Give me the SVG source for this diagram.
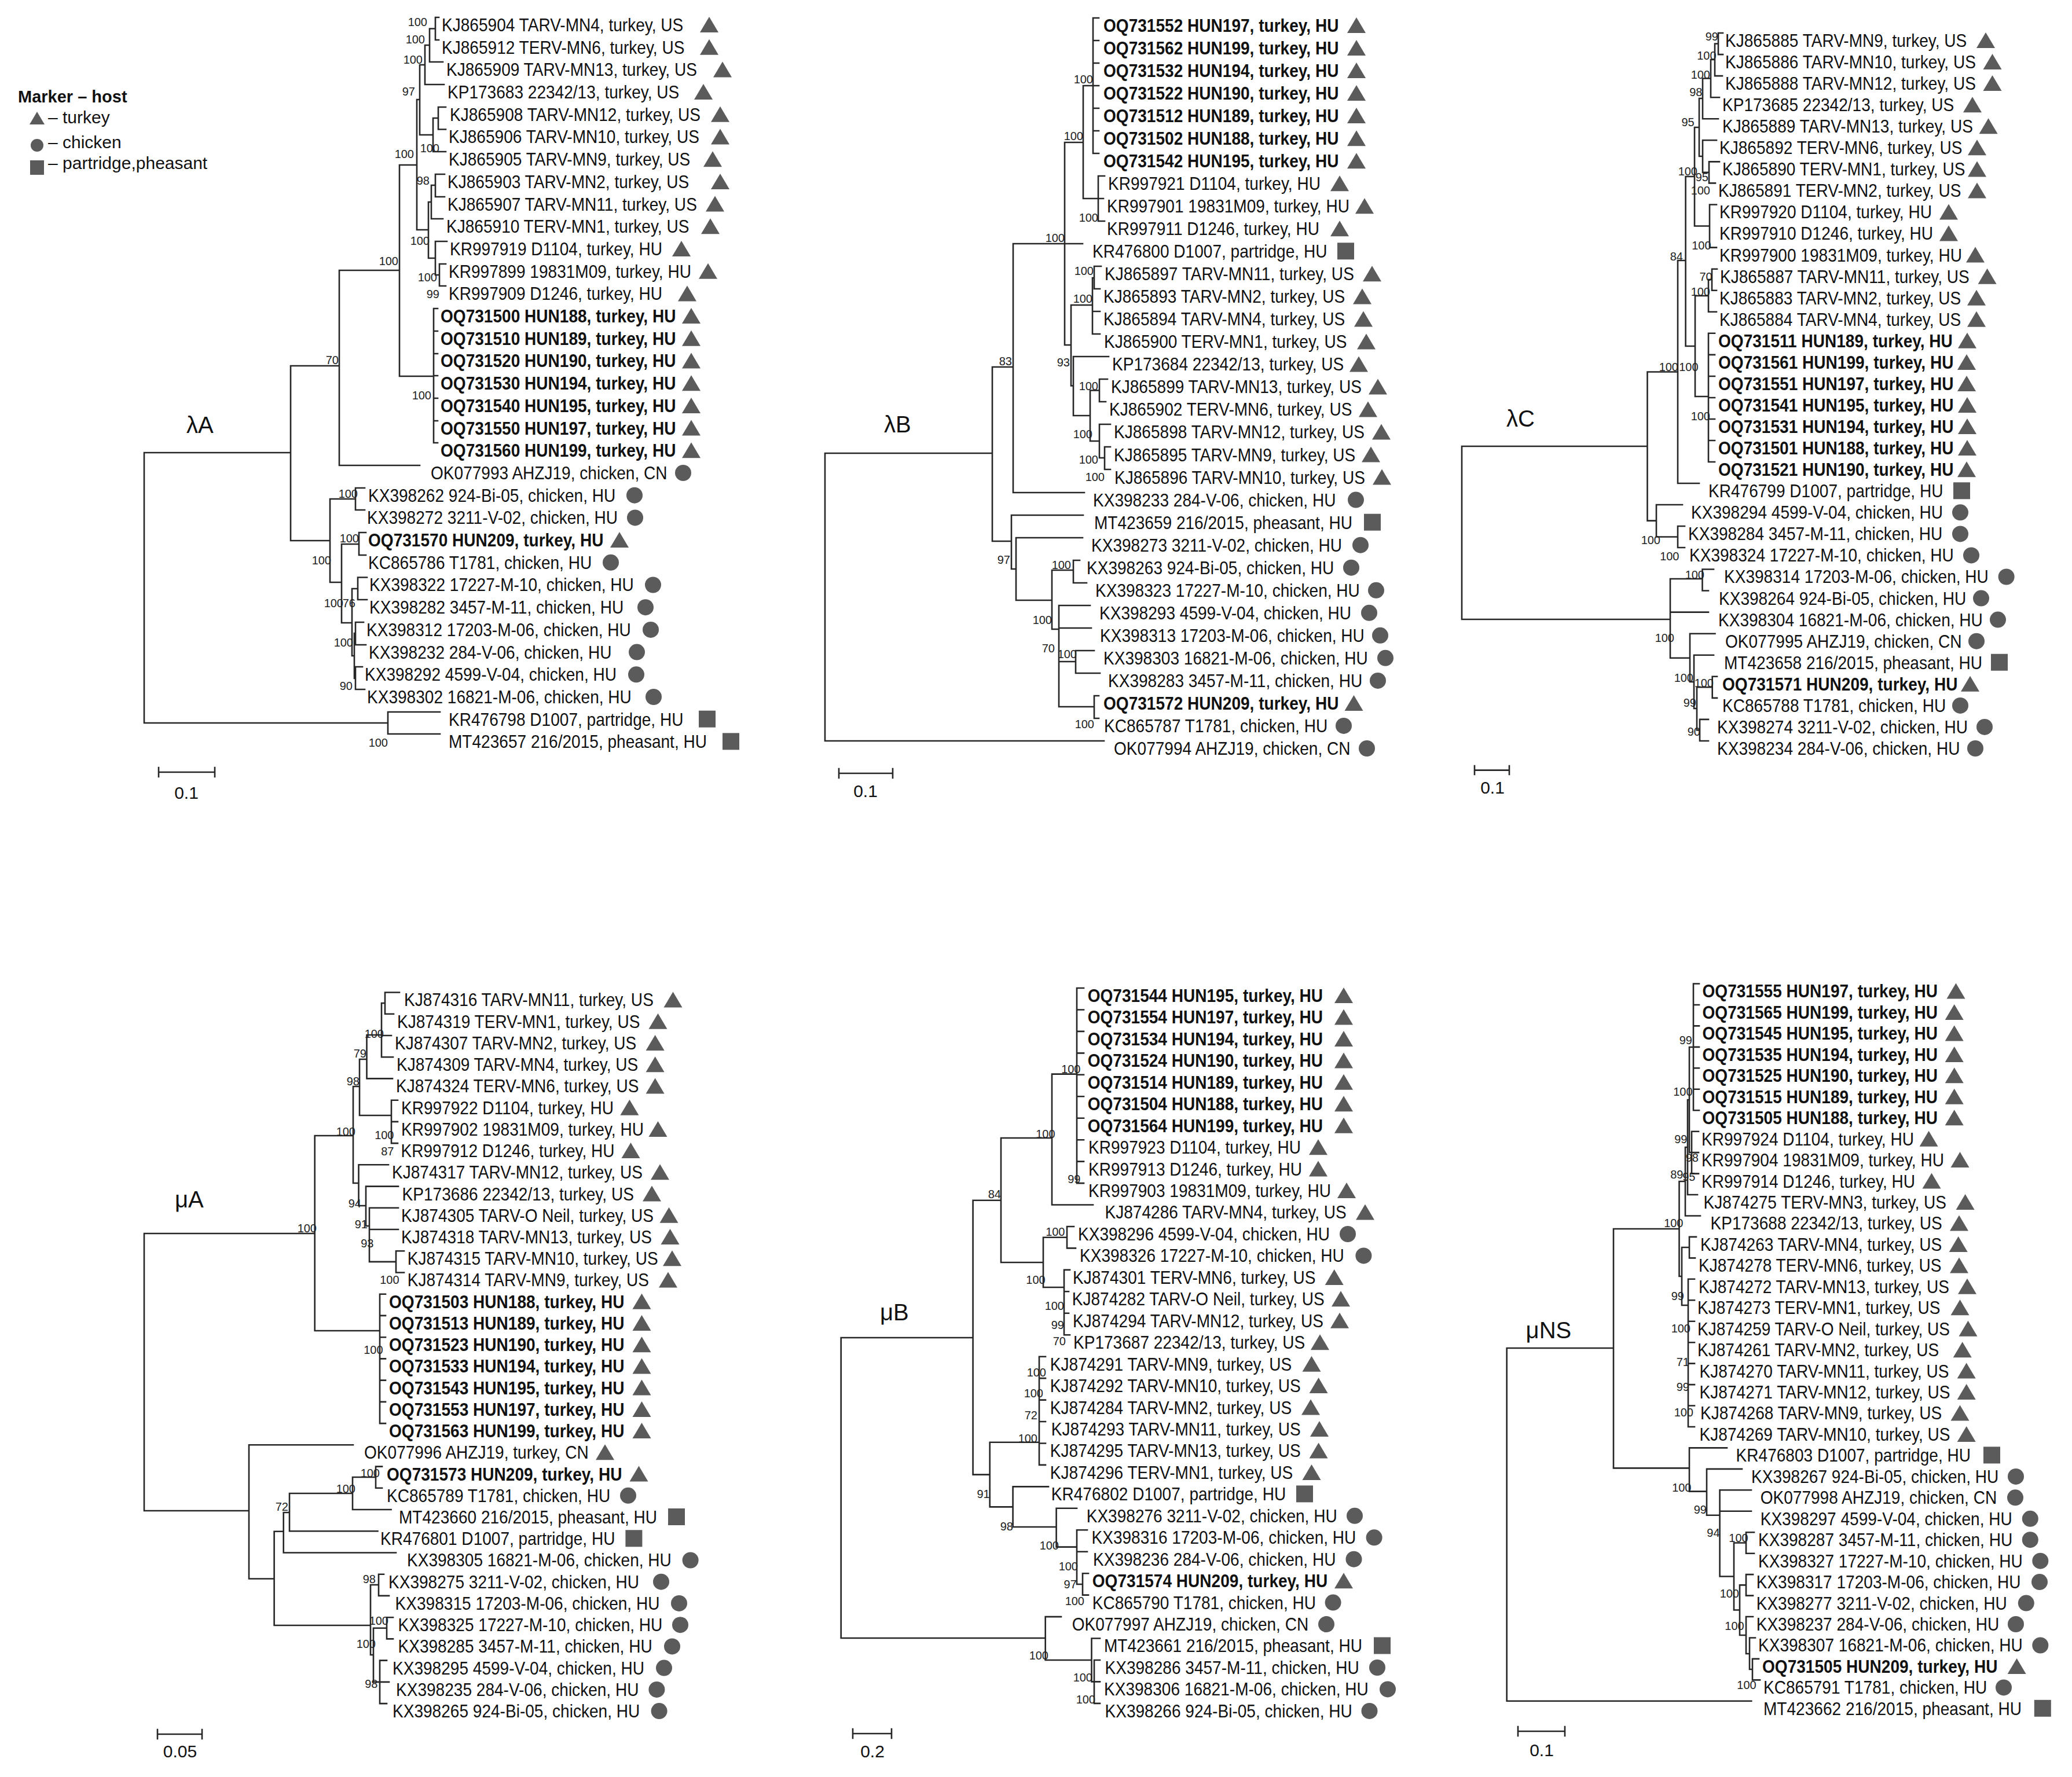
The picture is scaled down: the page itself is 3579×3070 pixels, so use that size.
<svg xmlns="http://www.w3.org/2000/svg" xmlns:xlink="http://www.w3.org/1999/xlink" width="3579" height="3070" viewBox="0 0 3579 3070">
<style>
text{font-family:"Liberation Sans",Arial,sans-serif;font-size:28px;fill:#111}
g[id*="-r"]>text{font-size:30.5px;transform-box:fill-box;transform-origin:0 0;transform:scaleX(0.92)}
.b{font-weight:bold}
.n{font-size:20px;text-anchor:end;fill:#222}
.tl{font-size:40px}
.sc{font-size:30px;text-anchor:middle}
.lg{font-size:30px}
.br{fill:none;stroke:#262626;stroke-width:2.6;stroke-linecap:square}
</style>
<defs>
<path id="t" d="M0,-1L16,26L-16,26Z" fill="#5b5b5b"/>
<circle id="c" cx="0" cy="13" r="14" fill="#5b5b5b"/>
<rect id="s" x="-14" y="-2" width="29" height="29" fill="#5b5b5b"/>
</defs>
<rect width="3579" height="3070" fill="#fff"/>

<g id="legend">
<text x="31" y="177" style="font-size:29px;font-weight:bold">Marker – host</text>
<path d="M64,193L77,215L51,215Z" fill="#5b5b5b"/><text class="lg" x="83" y="213">– turkey</text>
<circle cx="64" cy="251" r="11" fill="#5b5b5b"/><text class="lg" x="83" y="256">– chicken</text>
<rect x="52" y="277" width="24" height="25" fill="#5b5b5b"/><text class="lg" x="83" y="292">– partridge,pheasant</text>
</g>

<g id="connectors">
<path class="br" id="conn-lA" d="M249,782V1249M249,782H502M249,1249H670M502,632V934M502,632H586M502,934H570M586,467V804M586,467H690M586,804H725M690,285V650M690,285H720M690,650H749M749,533V765M749,533H756M749,572H756M749,611H756M749,649H756M749,688H756M749,727H756M749,765H756M720,172V397M720,172H725M725,112V233M725,112H734M725,233H748M734,78V146M734,78H742M734,146H767M742,49.5V107M742,49.5H752M742,107H765M752,30V69M752,30H758M752,69H758M748,204V262M748,204H757M748,262H770M757,185V223.5M757,185H770M757,223.5H770M720,397H740M740,349V446M740,349H745M740,446H752M745,320V378M745,320H752M745,378H765M752,301V340M752,301H768M752,340H768M752,417V475M752,417H772M752,475H759M759,456V494M759,456H770M759,494H770M570,862V1006M570,862H614M570,1006H590M614,843V881M614,843H630M614,881H630M590,940V1076M590,940H620M590,1076H608M620,920V959M620,920H632M620,959H632M608,1017V1133M608,1017H618M608,1133H612M618,997.5V1036M618,997.5H634M618,1036H634M612,1094V1172M612,1094H614M612,1172H614M614,1075V1114M614,1075H628M614,1114H632M614,1152V1191M614,1152H626M614,1191H630M670,1230V1268M670,1230H760M670,1268H760"/>
<path class="br" id="conn-lB" d="M1425,783V1280M1425,783H1714M1425,1280H1907M1714,634V935M1714,634H1750M1714,935H1747M1750,421V851M1750,421H1839M1750,851H1873M1839,246V596M1839,421H1870M1839,246H1871M1839,596H1850M1871,148V343M1871,148H1888M1871,343H1897M1888,31V265M1888,31H1898M1888,70H1898M1888,109H1898M1888,148H1898M1888,187H1898M1888,226H1898M1888,265H1898M1897,304V382M1897,304H1908M1897,343H1906M1897,382H1908M1850,527V666.5M1850,527H1887M1850,666.5H1854M1887,480V577M1887,480H1890M1887,538H1900M1887,577H1900M1890,460V499M1890,460H1902M1890,499H1900M1854,616V718M1854,616H1915M1854,718H1883M1883,674.5V762M1883,674.5H1899M1883,762H1899M1899,655V694M1899,655H1913M1899,694H1910M1899,733V791M1899,733H1918M1899,791H1908M1908,772V811M1908,772H1918M1908,811H1918M1747,890V983M1747,890H1871M1747,983H1755M1755,929V1037M1755,929H1870M1755,1037H1817M1817,985V1087M1817,985H1854M1817,1087H1829M1854,968V1007M1854,968H1865M1854,1007H1877M1829,1046V1221M1829,1046H1883M1829,1085H1885M1829,1143H1858M1829,1221H1890M1858,1124V1163M1858,1124H1890M1858,1163H1900M1890,1202V1241M1890,1202H1898M1890,1241H1898"/>
<path class="br" id="conn-lC" d="M2525,771V1070M2525,771H2845.5M2525,1070H2885M2845.5,642.5V899.6M2845.5,642.5H2898M2845.5,899.6H2861M2898,450V835M2898,450H2911.6M2898,835H2935M2911.6,305V598M2911.6,305H2927M2911.6,598H2928M2927,220V390.5M2927,220H2935M2927,390.5H2953M2935,170V270M2935,170H2941M2935,270H2941M2941,135.5V205.2M2941,135.5H2955M2941,205.2H2968M2955,103V168.2M2955,103H2962M2955,168.2H2970M2962,75.5V131.1M2962,75.5H2968M2962,131.1H2975M2968,57V94.1M2968,57H2976M2968,94.1H2976M2941,242.3V297.9M2941,242.3H2965M2941,297.9H2952M2952,279.4V316.4M2952,279.4H2970M2952,316.4H2963M2953,353.5V427.6M2953,353.5H2965M2953,427.6H2965M2928,511V685M2928,511H2951M2928,685H2951M2951,483V538.8M2951,483H2957M2951,538.8H2965M2957,464.7V501.7M2957,464.7H2966M2957,501.7H2965M2951,575.8V798M2951,575.8H2962M2951,612.9H2962M2951,650H2962M2951,687H2962M2951,724H2962M2951,761H2962M2951,798H2962M2861,872V927.5M2861,872H2906M2861,927.5H2898M2898,909V946M2898,909H2910M2898,946H2910M2885,1000V1136.8M2885,1000H2940.5M2885,1057.6H2951M2885,1136.8H2919M2940.5,983.5V1020.5M2940.5,983.5H2960M2940.5,1020.5H2951M2919,1094.7V1178M2919,1094.7H2962.5M2919,1178H2926M2926,1131.7V1224M2926,1131.7H2960M2926,1224H2931M2931,1187.3V1261.5M2931,1187.3H2957.7M2931,1261.5H2936M2957.7,1168.8V1205.9M2957.7,1168.8H2966M2957.7,1205.9H2966M2936,1242.9V1280M2936,1242.9H2951M2936,1280H2951"/>
<path class="br" id="conn-mA" d="M249,2131V2610M249,2131H543.7M249,2610H430M543.7,1962V2299M543.7,1962H610M543.7,2299H656M656,2235.7V2459.1M656,2235.7H666M656,2272.9H666M656,2310.2H666M656,2347.4H666M656,2384.6H666M656,2421.9H666M656,2459.1H666M610,1877V2044M610,1877H621M610,2044H619.5M621,1830V1927M621,1830H633.5M621,1927H676M633.5,1788V1863.4M633.5,1788H659M633.5,1863.4H678M659,1733V1826.2M659,1733H665M659,1789H676M659,1826.2H679M665,1714.5V1751.7M665,1714.5H690M665,1751.7H680M676,1900.7V1975.1M676,1900.7H687M676,1937.9H687M676,1975.1H687M619.5,2012.3V2083M619.5,2012.3H671M619.5,2083H632M632,2049.6V2118M632,2049.6H688M632,2118H638M638,2086.8V2179.9M638,2086.8H688M638,2124H688M638,2179.9H684M684,2161.3V2198.5M684,2161.3H698M684,2198.5H698M430,2496.3V2727.5M430,2496.3H610M430,2727.5H473.6M473.6,2645.8V2808M473.6,2645.8H489.7M473.6,2808H640M489.7,2613V2682.5M489.7,2613H500M489.7,2682.5H684M500,2580V2645.3M500,2580H609M500,2645.3H652.5M609,2552V2608M609,2552H649M609,2608H675.6M649,2533.6V2570.8M649,2533.6H660M649,2570.8H660M640,2738V2859M640,2738H654M640,2859H645M645,2812.8V2905.9M645,2812.8H668M645,2905.9H656M654,2719.7V2756.9M654,2719.7H663M654,2756.9H672M668,2794.2V2831.4M668,2794.2H679M668,2831.4H679M656,2868.6V2943.1M656,2868.6H668M656,2905.9H672M656,2943.1H668"/>
<path class="br" id="conn-mB" d="M1452.7,2311V2830M1452.7,2311H1680.6M1452.7,2830H1805.7M1680.6,2073.8V2547.6M1680.6,2073.8H1729M1680.6,2547.6H1709.7M1729,1966V2181M1729,1966H1817M1729,2181H1802M1817,1855.6V2081.5M1817,1855.6H1860M1817,2081.5H1888M1860,1707V2044.1M1860,1707H1872M1860,1744.5H1872M1860,1781.9H1872M1860,1819.4H1872M1860,1856.8H1872M1860,1894.3H1872M1860,1931.7H1872M1860,1969.2H1872M1860,2006.6H1872M1860,2044.1H1872M1802,2137.7V2224M1802,2137.7H1843M1802,2224H1838M1843,2119V2156.4M1843,2119H1855M1843,2156.4H1858M1838,2193.9V2306.2M1838,2193.9H1848M1838,2231.3H1846M1838,2268.8H1846M1838,2306.2H1848M1709.7,2491.8V2603.4M1709.7,2491.8H1795M1709.7,2603.4H1749.6M1795,2343.7V2530.9M1795,2343.7H1806M1795,2381.1H1806M1795,2418.6H1806M1795,2456H1806M1795,2493.5H1806M1795,2530.9H1806M1749.6,2568.4V2638M1749.6,2568.4H1811M1749.6,2638H1824.6M1824.6,2605.8V2672.6M1824.6,2605.8H1860M1824.6,2672.6H1860M1860,2643.3V2737M1860,2643.3H1878M1860,2680.7H1878M1860,2737H1870M1870,2718.2V2755.6M1870,2718.2H1880M1870,2755.6H1880M1805.7,2793.1V2868M1805.7,2793.1H1833M1805.7,2868H1885.5M1885.5,2830.5V2905.4M1885.5,2830.5H1900M1885.5,2905.4H1890M1890,2868V2942.9M1890,2868H1900M1890,2905.4H1900M1890,2942.9H1900"/>
<path class="br" id="conn-mNS" d="M2602.7,2329V2938.8M2602.7,2329H2787M2602.7,2938.8H3025.3M2787,2123V2536.4M2787,2123H2900.5M2787,2536.4H2918M2900.5,2041V2205M2900.5,2041H2911M2900.5,2205H2905M2911,1982V2100.5M2911,1982H2915M2911,2100.5H2937M2915,1900V2064M2915,1900H2918M2915,2064H2932M2918,1809V1991M2918,1809H2925M2918,1991H2922M2925,1699.5V1918.2M2925,1699.5H2935M2925,1736H2935M2925,1772.4H2935M2925,1808.9H2935M2925,1845.3H2935M2925,1881.8H2935M2925,1918.2H2935M2922,1954.7V2027.6M2922,1954.7H2934M2922,1991.1H2934M2922,2027.6H2934M2905,2155V2255M2905,2155H2918M2905,2255H2916M2918,2136.9V2173.4M2918,2136.9H2930M2918,2173.4H2928M2916,2209.8V2465M2916,2209.8H2927M2916,2246.3H2927M2916,2282.7H2927M2916,2319.2H2927M2916,2355.6H2927M2916,2392.1H2927M2916,2428.5H2927M2916,2465H2927M2918,2501.4V2576.6M2918,2501.4H2983M2918,2576.6H2948M2948,2537.9V2617.7M2948,2537.9H3009M2948,2617.7H2970.6M2970.6,2574.3V2723.5M2970.6,2574.3H3025M2970.6,2610.8H3025M2970.6,2723.5H2995M2995,2665.5V2781.5M2995,2665.5H3016M2995,2781.5H3005M3016,2647.2V2683.7M3016,2647.2H3030M3016,2683.7H3030M3005,2738.4V2825M3005,2738.4H3016M3005,2825H3016M3016,2720.1V2756.6M3016,2720.1H3028M3016,2756.6H3028M3016,2793V2857M3016,2793H3028M3016,2857H3022M3022,2829.5V2884M3022,2829.5H3032M3022,2884H3027M3027,2865.9V2902.4M3027,2865.9H3038M3027,2902.4H3040"/>
<path class="br" id="scalebars" d="M274,1334H371M274,1326V1342M371,1326V1342M1449,1336H1542M1449,1328V1344M1542,1328V1344M2547,1330.6H2607M2547,1323V1338M2607,1323V1338M272,2996H349M272,2988V3004M349,2988V3004M1473,2995H1540M1473,2987V3003M1540,2987V3003M2622,2991H2703M2622,2983V2999M2703,2983V2999"/>
</g>

<g id="tree-lA">
<text class="tl" x="322" y="748">λA</text>
<text class="sc" x="322" y="1380">0.1</text>
<g id="lA-r0"><text x="763" y="54">KJ865904 TARV-MN4, turkey, US</text><use href="#t" x="1225" y="30"/></g>
<g id="lA-r1"><text x="763" y="92.7">KJ865912 TERV-MN6, turkey, US</text><use href="#t" x="1225" y="68.7"/></g>
<g id="lA-r2"><text x="771" y="131.4">KJ865909 TARV-MN13, turkey, US</text><use href="#t" x="1248" y="107.4"/></g>
<g id="lA-r3"><text x="773" y="170.1">KP173683 22342/13, turkey, US</text><use href="#t" x="1215" y="146.1"/></g>
<g id="lA-r4"><text x="777" y="208.8">KJ865908 TARV-MN12, turkey, US</text><use href="#t" x="1244" y="184.8"/></g>
<g id="lA-r5"><text x="775" y="247.5">KJ865906 TARV-MN10, turkey, US</text><use href="#t" x="1244" y="223.5"/></g>
<g id="lA-r6"><text x="775" y="286.2">KJ865905 TARV-MN9, turkey, US</text><use href="#t" x="1231" y="262.2"/></g>
<g id="lA-r7"><text x="773" y="324.9">KJ865903 TARV-MN2, turkey, US</text><use href="#t" x="1244" y="300.9"/></g>
<g id="lA-r8"><text x="773" y="363.6">KJ865907 TARV-MN11, turkey, US</text><use href="#t" x="1235" y="339.6"/></g>
<g id="lA-r9"><text x="771" y="402.3">KJ865910 TERV-MN1, turkey, US</text><use href="#t" x="1227" y="378.3"/></g>
<g id="lA-r10"><text x="777" y="441">KR997919 D1104, turkey, HU</text><use href="#t" x="1177" y="417"/></g>
<g id="lA-r11"><text x="775" y="479.7">KR997899 19831M09, turkey, HU</text><use href="#t" x="1223" y="455.7"/></g>
<g id="lA-r12"><text x="775" y="518.4">KR997909 D1246, turkey, HU</text><use href="#t" x="1187" y="494.4"/></g>
<g id="lA-r13"><text class="b" x="761" y="557.1">OQ731500 HUN188, turkey, HU</text><use href="#t" x="1194" y="533.1"/></g>
<g id="lA-r14"><text class="b" x="761" y="595.8">OQ731510 HUN189, turkey, HU</text><use href="#t" x="1194" y="571.8"/></g>
<g id="lA-r15"><text class="b" x="761" y="634.5">OQ731520 HUN190, turkey, HU</text><use href="#t" x="1194" y="610.5"/></g>
<g id="lA-r16"><text class="b" x="761" y="673.2">OQ731530 HUN194, turkey, HU</text><use href="#t" x="1194" y="649.2"/></g>
<g id="lA-r17"><text class="b" x="761" y="711.9">OQ731540 HUN195, turkey, HU</text><use href="#t" x="1194" y="687.9"/></g>
<g id="lA-r18"><text class="b" x="761" y="750.6">OQ731550 HUN197, turkey, HU</text><use href="#t" x="1194" y="726.6"/></g>
<g id="lA-r19"><text class="b" x="761" y="789.3">OQ731560 HUN199, turkey, HU</text><use href="#t" x="1194" y="765.3"/></g>
<g id="lA-r20"><text x="744" y="828">OK077993 AHZJ19, chicken, CN</text><use href="#c" x="1180" y="804"/></g>
<g id="lA-r21"><text x="636" y="866.7">KX398262 924-Bi-05, chicken, HU</text><use href="#c" x="1096" y="842.7"/></g>
<g id="lA-r22"><text x="634" y="905.4">KX398272 3211-V-02, chicken, HU</text><use href="#c" x="1097" y="881.4"/></g>
<g id="lA-r23"><text class="b" x="636" y="944.1">OQ731570 HUN209, turkey, HU</text><use href="#t" x="1070" y="920.1"/></g>
<g id="lA-r24"><text x="636" y="982.8">KC865786 T1781, chicken, HU</text><use href="#c" x="1055" y="958.8"/></g>
<g id="lA-r25"><text x="638" y="1021.5">KX398322 17227-M-10, chicken, HU</text><use href="#c" x="1128" y="997.5"/></g>
<g id="lA-r26"><text x="638" y="1060.2">KX398282 3457-M-11, chicken, HU</text><use href="#c" x="1115" y="1036.2"/></g>
<g id="lA-r27"><text x="633" y="1098.9">KX398312 17203-M-06, chicken, HU</text><use href="#c" x="1124" y="1074.9"/></g>
<g id="lA-r28"><text x="637" y="1137.6">KX398232 284-V-06, chicken, HU</text><use href="#c" x="1100" y="1113.6"/></g>
<g id="lA-r29"><text x="630" y="1176.3">KX398292 4599-V-04, chicken, HU</text><use href="#c" x="1099" y="1152.3"/></g>
<g id="lA-r30"><text x="634" y="1215">KX398302 16821-M-06, chicken, HU</text><use href="#c" x="1129" y="1191"/></g>
<g id="lA-r31"><text x="775" y="1253.7">KR476798 D1007, partridge, HU</text><use href="#s" x="1221" y="1229.7"/></g>
<g id="lA-r32"><text x="775" y="1292.4">MT423657 216/2015, pheasant, HU</text><use href="#s" x="1262" y="1268.4"/></g>
<g id="lA-support">
<text class="n" x="738" y="45">100</text><text class="n" x="734" y="75">100</text><text class="n" x="730" y="110">100</text><text class="n" x="717" y="165">97</text><text class="n" x="759" y="263">100</text><text class="n" x="715" y="273">100</text><text class="n" x="742" y="319">98</text><text class="n" x="742" y="423">100</text><text class="n" x="688" y="458">100</text><text class="n" x="755" y="486">100</text><text class="n" x="759" y="515">99</text><text class="n" x="585" y="629">70</text><text class="n" x="745" y="690">100</text><text class="n" x="618" y="860">100</text><text class="n" x="620" y="937">100</text><text class="n" x="572" y="975">100</text><text class="n" x="593" y="1049">100</text><text class="n" x="614" y="1049">76</text><text class="n" x="610" y="1117">100</text><text class="n" x="609" y="1192">90</text><text class="n" x="670" y="1290">100</text>
</g>
</g>

<g id="tree-lB">
<text class="tl" x="1527" y="747">λB</text>
<text class="sc" x="1495" y="1377">0.1</text>
<g id="lB-r0"><text class="b" x="1906" y="55">OQ731552 HUN197, turkey, HU</text><use href="#t" x="2343" y="31"/></g>
<g id="lB-r1"><text class="b" x="1906" y="94">OQ731562 HUN199, turkey, HU</text><use href="#t" x="2343" y="70"/></g>
<g id="lB-r2"><text class="b" x="1906" y="133.1">OQ731532 HUN194, turkey, HU</text><use href="#t" x="2343" y="109.1"/></g>
<g id="lB-r3"><text class="b" x="1906" y="172.1">OQ731522 HUN190, turkey, HU</text><use href="#t" x="2343" y="148.1"/></g>
<g id="lB-r4"><text class="b" x="1906" y="211.1">OQ731512 HUN189, turkey, HU</text><use href="#t" x="2343" y="187.1"/></g>
<g id="lB-r5"><text class="b" x="1906" y="250.2">OQ731502 HUN188, turkey, HU</text><use href="#t" x="2343" y="226.2"/></g>
<g id="lB-r6"><text class="b" x="1906" y="289.2">OQ731542 HUN195, turkey, HU</text><use href="#t" x="2343" y="265.2"/></g>
<g id="lB-r7"><text x="1914" y="328.2">KR997921 D1104, turkey, HU</text><use href="#t" x="2314" y="304.2"/></g>
<g id="lB-r8"><text x="1912" y="367.2">KR997901 19831M09, turkey, HU</text><use href="#t" x="2357" y="343.2"/></g>
<g id="lB-r9"><text x="1912" y="406.3">KR997911 D1246, turkey, HU</text><use href="#t" x="2314" y="382.3"/></g>
<g id="lB-r10"><text x="1887" y="445.3">KR476800 D1007, partridge, HU</text><use href="#s" x="2324" y="421.3"/></g>
<g id="lB-r11"><text x="1908" y="484.3">KJ865897 TARV-MN11, turkey, US</text><use href="#t" x="2370" y="460.3"/></g>
<g id="lB-r12"><text x="1906" y="523.4">KJ865893 TARV-MN2, turkey, US</text><use href="#t" x="2353" y="499.4"/></g>
<g id="lB-r13"><text x="1906" y="562.4">KJ865894 TARV-MN4, turkey, US</text><use href="#t" x="2355" y="538.4"/></g>
<g id="lB-r14"><text x="1907" y="601.4">KJ865900 TERV-MN1, turkey, US</text><use href="#t" x="2360" y="577.4"/></g>
<g id="lB-r15"><text x="1921" y="640.5">KP173684 22342/13, turkey, US</text><use href="#t" x="2347" y="616.5"/></g>
<g id="lB-r16"><text x="1919" y="679.5">KJ865899 TARV-MN13, turkey, US</text><use href="#t" x="2380" y="655.5"/></g>
<g id="lB-r17"><text x="1916" y="718.5">KJ865902 TERV-MN6, turkey, US</text><use href="#t" x="2363" y="694.5"/></g>
<g id="lB-r18"><text x="1924" y="757.5">KJ865898 TARV-MN12, turkey, US</text><use href="#t" x="2386" y="733.5"/></g>
<g id="lB-r19"><text x="1924" y="796.6">KJ865895 TARV-MN9, turkey, US</text><use href="#t" x="2368" y="772.6"/></g>
<g id="lB-r20"><text x="1925" y="835.6">KJ865896 TARV-MN10, turkey, US</text><use href="#t" x="2387" y="811.6"/></g>
<g id="lB-r21"><text x="1888" y="874.6">KX398233 284-V-06, chicken, HU</text><use href="#c" x="2342" y="850.6"/></g>
<g id="lB-r22"><text x="1890" y="913.7">MT423659 216/2015, pheasant, HU</text><use href="#s" x="2370" y="889.7"/></g>
<g id="lB-r23"><text x="1885" y="952.7">KX398273 3211-V-02, chicken, HU</text><use href="#c" x="2350" y="928.7"/></g>
<g id="lB-r24"><text x="1877" y="991.7">KX398263 924-Bi-05, chicken, HU</text><use href="#c" x="2334" y="967.7"/></g>
<g id="lB-r25"><text x="1892" y="1030.8">KX398323 17227-M-10, chicken, HU</text><use href="#c" x="2377" y="1006.8"/></g>
<g id="lB-r26"><text x="1899" y="1069.8">KX398293 4599-V-04, chicken, HU</text><use href="#c" x="2365" y="1045.8"/></g>
<g id="lB-r27"><text x="1900" y="1108.8">KX398313 17203-M-06, chicken, HU</text><use href="#c" x="2384" y="1084.8"/></g>
<g id="lB-r28"><text x="1906" y="1147.8">KX398303 16821-M-06, chicken, HU</text><use href="#c" x="2393" y="1123.8"/></g>
<g id="lB-r29"><text x="1914" y="1186.9">KX398283 3457-M-11, chicken, HU</text><use href="#c" x="2380" y="1162.9"/></g>
<g id="lB-r30"><text class="b" x="1906" y="1225.9">OQ731572 HUN209, turkey, HU</text><use href="#t" x="2338.5" y="1201.9"/></g>
<g id="lB-r31"><text x="1907" y="1264.9">KC865787 T1781, chicken, HU</text><use href="#c" x="2321" y="1240.9"/></g>
<g id="lB-r32"><text x="1924" y="1304">OK077994 AHZJ19, chicken, CN</text><use href="#c" x="2361" y="1280"/></g>
<g id="lB-support">
<text class="n" x="1748" y="631">83</text><text class="n" x="1839" y="418">100</text><text class="n" x="1871" y="242">100</text><text class="n" x="1888" y="144">100</text><text class="n" x="1897" y="383">100</text><text class="n" x="1889" y="475">100</text><text class="n" x="1887" y="523">100</text><text class="n" x="1848" y="633">93</text><text class="n" x="1897" y="674">100</text><text class="n" x="1887" y="757">100</text><text class="n" x="1897" y="801">100</text><text class="n" x="1908" y="831">100</text><text class="n" x="1745" y="974">97</text><text class="n" x="1850" y="983">100</text><text class="n" x="1817" y="1078">100</text><text class="n" x="1822" y="1127">70</text><text class="n" x="1860" y="1137">100</text><text class="n" x="1890" y="1258">100</text>
</g>
</g>

<g id="tree-lC">
<text class="tl" x="2602" y="737">λC</text>
<text class="sc" x="2578" y="1371">0.1</text>
<g id="lC-r0"><text x="2980" y="81">KJ865885 TARV-MN9, turkey, US</text><use href="#t" x="3430" y="57"/></g>
<g id="lC-r1"><text x="2980" y="118.1">KJ865886 TARV-MN10, turkey, US</text><use href="#t" x="3441.5" y="94.1"/></g>
<g id="lC-r2"><text x="2980" y="155.1">KJ865888 TARV-MN12, turkey, US</text><use href="#t" x="3441.5" y="131.1"/></g>
<g id="lC-r3"><text x="2975" y="192.2">KP173685 22342/13, turkey, US</text><use href="#t" x="3407" y="168.2"/></g>
<g id="lC-r4"><text x="2975" y="229.2">KJ865889 TARV-MN13, turkey, US</text><use href="#t" x="3434.6" y="205.2"/></g>
<g id="lC-r5"><text x="2970" y="266.3">KJ865892 TERV-MN6, turkey, US</text><use href="#t" x="3415" y="242.3"/></g>
<g id="lC-r6"><text x="2975" y="303.4">KJ865890 TERV-MN1, turkey, US</text><use href="#t" x="3415" y="279.4"/></g>
<g id="lC-r7"><text x="2968" y="340.4">KJ865891 TERV-MN2, turkey, US</text><use href="#t" x="3415" y="316.4"/></g>
<g id="lC-r8"><text x="2970" y="377.5">KR997920 D1104, turkey, HU</text><use href="#t" x="3366" y="353.5"/></g>
<g id="lC-r9"><text x="2970" y="414.5">KR997910 D1246, turkey, HU</text><use href="#t" x="3366" y="390.5"/></g>
<g id="lC-r10"><text x="2970" y="451.6">KR997900 19831M09, turkey, HU</text><use href="#t" x="3412" y="427.6"/></g>
<g id="lC-r11"><text x="2971" y="488.7">KJ865887 TARV-MN11, turkey, US</text><use href="#t" x="3432.6" y="464.7"/></g>
<g id="lC-r12"><text x="2970" y="525.7">KJ865883 TARV-MN2, turkey, US</text><use href="#t" x="3414" y="501.7"/></g>
<g id="lC-r13"><text x="2970" y="562.8">KJ865884 TARV-MN4, turkey, US</text><use href="#t" x="3414" y="538.8"/></g>
<g id="lC-r14"><text class="b" x="2968" y="599.8">OQ731511 HUN189, turkey, HU</text><use href="#t" x="3398" y="575.8"/></g>
<g id="lC-r15"><text class="b" x="2968" y="636.9">OQ731561 HUN199, turkey, HU</text><use href="#t" x="3397" y="612.9"/></g>
<g id="lC-r16"><text class="b" x="2968" y="674">OQ731551 HUN197, turkey, HU</text><use href="#t" x="3397" y="650"/></g>
<g id="lC-r17"><text class="b" x="2968" y="711">OQ731541 HUN195, turkey, HU</text><use href="#t" x="3398" y="687"/></g>
<g id="lC-r18"><text class="b" x="2968" y="748.1">OQ731531 HUN194, turkey, HU</text><use href="#t" x="3398" y="724.1"/></g>
<g id="lC-r19"><text class="b" x="2968" y="785.1">OQ731501 HUN188, turkey, HU</text><use href="#t" x="3398" y="761.1"/></g>
<g id="lC-r20"><text class="b" x="2968" y="822.2">OQ731521 HUN190, turkey, HU</text><use href="#t" x="3397" y="798.2"/></g>
<g id="lC-r21"><text x="2951" y="859.3">KR476799 D1007, partridge, HU</text><use href="#s" x="3388" y="835.3"/></g>
<g id="lC-r22"><text x="2921" y="896.3">KX398294 4599-V-04, chicken, HU</text><use href="#c" x="3386" y="872.3"/></g>
<g id="lC-r23"><text x="2916" y="933.4">KX398284 3457-M-11, chicken, HU</text><use href="#c" x="3386" y="909.4"/></g>
<g id="lC-r24"><text x="2918" y="970.4">KX398324 17227-M-10, chicken, HU</text><use href="#c" x="3405" y="946.4"/></g>
<g id="lC-r25"><text x="2978" y="1007.5">KX398314 17203-M-06, chicken, HU</text><use href="#c" x="3465.6" y="983.5"/></g>
<g id="lC-r26"><text x="2969" y="1044.6">KX398264 924-Bi-05, chicken, HU</text><use href="#c" x="3422" y="1020.6"/></g>
<g id="lC-r27"><text x="2968" y="1081.6">KX398304 16821-M-06, chicken, HU</text><use href="#c" x="3451" y="1057.6"/></g>
<g id="lC-r28"><text x="2980" y="1118.7">OK077995 AHZJ19, chicken, CN</text><use href="#c" x="3414" y="1094.7"/></g>
<g id="lC-r29"><text x="2978" y="1155.7">MT423658 216/2015, pheasant, HU</text><use href="#s" x="3453" y="1131.7"/></g>
<g id="lC-r30"><text class="b" x="2975" y="1192.8">OQ731571 HUN209, turkey, HU</text><use href="#t" x="3403" y="1168.8"/></g>
<g id="lC-r31"><text x="2975" y="1229.9">KC865788 T1781, chicken, HU</text><use href="#c" x="3386" y="1205.9"/></g>
<g id="lC-r32"><text x="2966" y="1266.9">KX398274 3211-V-02, chicken, HU</text><use href="#c" x="3428" y="1242.9"/></g>
<g id="lC-r33"><text x="2966" y="1304">KX398234 284-V-06, chicken, HU</text><use href="#c" x="3412" y="1280"/></g>
<g id="lC-support">
<text class="n" x="2968" y="69.6">99</text><text class="n" x="2964.6" y="102.6">100</text><text class="n" x="2954" y="135.6">100</text><text class="n" x="2940.5" y="166">98</text><text class="n" x="2926.7" y="218">95</text><text class="n" x="2932" y="303">100</text><text class="n" x="2951" y="312.6">95</text><text class="n" x="2954" y="336">100</text><text class="n" x="2955.6" y="430.6">100</text><text class="n" x="2907" y="449.5">84</text><text class="n" x="2957.7" y="484.8">70</text><text class="n" x="2954" y="510.8">100</text><text class="n" x="2899" y="640.6">100</text><text class="n" x="2933.6" y="640.6">100</text><text class="n" x="2954" y="725.5">100</text><text class="n" x="2868" y="939.5">100</text><text class="n" x="2900.5" y="967.7">100</text><text class="n" x="2944" y="1000">100</text><text class="n" x="2892" y="1108.6">100</text><text class="n" x="2925" y="1178">100</text><text class="n" x="2960" y="1186.7">100</text><text class="n" x="2930" y="1221">99</text><text class="n" x="2937" y="1271">90</text>
</g>
</g>

<g id="tree-mA">
<text class="tl" x="302" y="2085.5">μA</text>
<text class="sc" x="311" y="3036">0.05</text>
<g id="mA-r0"><text x="698" y="1738.5">KJ874316 TARV-MN11, turkey, US</text><use href="#t" x="1162.5" y="1714.5"/></g>
<g id="mA-r1"><text x="686" y="1775.7">KJ874319 TERV-MN1, turkey, US</text><use href="#t" x="1136.5" y="1751.7"/></g>
<g id="mA-r2"><text x="682" y="1813">KJ874307 TARV-MN2, turkey, US</text><use href="#t" x="1131.6" y="1789"/></g>
<g id="mA-r3"><text x="685" y="1850.2">KJ874309 TARV-MN4, turkey, US</text><use href="#t" x="1131.6" y="1826.2"/></g>
<g id="mA-r4"><text x="684" y="1887.4">KJ874324 TERV-MN6, turkey, US</text><use href="#t" x="1131.6" y="1863.4"/></g>
<g id="mA-r5"><text x="693" y="1924.7">KR997922 D1104, turkey, HU</text><use href="#t" x="1087.4" y="1900.7"/></g>
<g id="mA-r6"><text x="693" y="1961.9">KR997902 19831M09, turkey, HU</text><use href="#t" x="1136.5" y="1937.9"/></g>
<g id="mA-r7"><text x="692.5" y="1999.1">KR997912 D1246, turkey, HU</text><use href="#t" x="1089.5" y="1975.1"/></g>
<g id="mA-r8"><text x="677" y="2036.3">KJ874317 TARV-MN12, turkey, US</text><use href="#t" x="1140" y="2012.3"/></g>
<g id="mA-r9"><text x="694.6" y="2073.6">KP173686 22342/13, turkey, US</text><use href="#t" x="1126" y="2049.6"/></g>
<g id="mA-r10"><text x="693" y="2110.8">KJ874305 TARV-O Neil, turkey, US</text><use href="#t" x="1155.5" y="2086.8"/></g>
<g id="mA-r11"><text x="693" y="2148">KJ874318 TARV-MN13, turkey, US</text><use href="#t" x="1157.5" y="2124"/></g>
<g id="mA-r12"><text x="703.7" y="2185.3">KJ874315 TARV-MN10, turkey, US</text><use href="#t" x="1161" y="2161.3"/></g>
<g id="mA-r13"><text x="703.7" y="2222.5">KJ874314 TARV-MN9, turkey, US</text><use href="#t" x="1154" y="2198.5"/></g>
<g id="mA-r14"><text class="b" x="672" y="2259.7">OQ731503 HUN188, turkey, HU</text><use href="#t" x="1108.5" y="2235.7"/></g>
<g id="mA-r15"><text class="b" x="672" y="2296.9">OQ731513 HUN189, turkey, HU</text><use href="#t" x="1108.5" y="2272.9"/></g>
<g id="mA-r16"><text class="b" x="672" y="2334.2">OQ731523 HUN190, turkey, HU</text><use href="#t" x="1108.5" y="2310.2"/></g>
<g id="mA-r17"><text class="b" x="672" y="2371.4">OQ731533 HUN194, turkey, HU</text><use href="#t" x="1108.5" y="2347.4"/></g>
<g id="mA-r18"><text class="b" x="672" y="2408.6">OQ731543 HUN195, turkey, HU</text><use href="#t" x="1108.5" y="2384.6"/></g>
<g id="mA-r19"><text class="b" x="672" y="2445.9">OQ731553 HUN197, turkey, HU</text><use href="#t" x="1108.5" y="2421.9"/></g>
<g id="mA-r20"><text class="b" x="672" y="2483.1">OQ731563 HUN199, turkey, HU</text><use href="#t" x="1108.5" y="2459.1"/></g>
<g id="mA-r21"><text x="629" y="2520.3">OK077996 AHZJ19, turkey, CN</text><use href="#t" x="1045" y="2496.3"/></g>
<g id="mA-r22"><text class="b" x="668" y="2557.6">OQ731573 HUN209, turkey, HU</text><use href="#t" x="1103.5" y="2533.6"/></g>
<g id="mA-r23"><text x="668" y="2594.8">KC865789 T1781, chicken, HU</text><use href="#c" x="1085" y="2570.8"/></g>
<g id="mA-r24"><text x="689" y="2632">MT423660 216/2015, pheasant, HU</text><use href="#s" x="1168" y="2608"/></g>
<g id="mA-r25"><text x="657" y="2669.3">KR476801 D1007, partridge, HU</text><use href="#s" x="1094.4" y="2645.3"/></g>
<g id="mA-r26"><text x="703" y="2706.5">KX398305 16821-M-06, chicken, HU</text><use href="#c" x="1192.6" y="2682.5"/></g>
<g id="mA-r27"><text x="671" y="2743.7">KX398275 3211-V-02, chicken, HU</text><use href="#c" x="1142" y="2719.7"/></g>
<g id="mA-r28"><text x="682.6" y="2780.9">KX398315 17203-M-06, chicken, HU</text><use href="#c" x="1173" y="2756.9"/></g>
<g id="mA-r29"><text x="687.5" y="2818.2">KX398325 17227-M-10, chicken, HU</text><use href="#c" x="1175" y="2794.2"/></g>
<g id="mA-r30"><text x="687.5" y="2855.4">KX398285 3457-M-11, chicken, HU</text><use href="#c" x="1161" y="2831.4"/></g>
<g id="mA-r31"><text x="678" y="2892.6">KX398295 4599-V-04, chicken, HU</text><use href="#c" x="1147" y="2868.6"/></g>
<g id="mA-r32"><text x="684" y="2929.9">KX398235 284-V-06, chicken, HU</text><use href="#c" x="1134.4" y="2905.9"/></g>
<g id="mA-r33"><text x="678" y="2967.1">KX398265 924-Bi-05, chicken, HU</text><use href="#c" x="1138.6" y="2943.1"/></g>
<g id="mA-support">
<text class="n" x="547" y="2129">100</text><text class="n" x="614" y="1962">100</text><text class="n" x="621" y="1875">98</text><text class="n" x="633" y="1827">79</text><text class="n" x="663" y="1793">100</text><text class="n" x="680.5" y="1968">100</text><text class="n" x="680.5" y="1996">87</text><text class="n" x="624" y="2085.5">94</text><text class="n" x="635" y="2122">91</text><text class="n" x="645.5" y="2155">93</text><text class="n" x="689.6" y="2217.7">100</text><text class="n" x="661.6" y="2339">100</text><text class="n" x="656" y="2552">100</text><text class="n" x="614" y="2579">100</text><text class="n" x="498" y="2610">72</text><text class="n" x="649" y="2735">98</text><text class="n" x="671" y="2806.5">100</text><text class="n" x="649" y="2846.7">100</text><text class="n" x="652.5" y="2916">98</text>
</g>
</g>

<g id="tree-mB">
<text class="tl" x="1520" y="2280.6">μB</text>
<text class="sc" x="1507" y="3036">0.2</text>
<g id="mB-r0"><text class="b" x="1878.7" y="1731">OQ731544 HUN195, turkey, HU</text><use href="#t" x="2321" y="1707"/></g>
<g id="mB-r1"><text class="b" x="1878.7" y="1768.5">OQ731554 HUN197, turkey, HU</text><use href="#t" x="2321" y="1744.5"/></g>
<g id="mB-r2"><text class="b" x="1878.7" y="1805.9">OQ731534 HUN194, turkey, HU</text><use href="#t" x="2321" y="1781.9"/></g>
<g id="mB-r3"><text class="b" x="1878.7" y="1843.4">OQ731524 HUN190, turkey, HU</text><use href="#t" x="2321" y="1819.4"/></g>
<g id="mB-r4"><text class="b" x="1878.7" y="1880.8">OQ731514 HUN189, turkey, HU</text><use href="#t" x="2321" y="1856.8"/></g>
<g id="mB-r5"><text class="b" x="1878.7" y="1918.3">OQ731504 HUN188, turkey, HU</text><use href="#t" x="2321" y="1894.3"/></g>
<g id="mB-r6"><text class="b" x="1878.7" y="1955.7">OQ731564 HUN199, turkey, HU</text><use href="#t" x="2321" y="1931.7"/></g>
<g id="mB-r7"><text x="1880" y="1993.2">KR997923 D1104, turkey, HU</text><use href="#t" x="2277" y="1969.2"/></g>
<g id="mB-r8"><text x="1880" y="2030.6">KR997913 D1246, turkey, HU</text><use href="#t" x="2277" y="2006.6"/></g>
<g id="mB-r9"><text x="1880" y="2068.1">KR997903 19831M09, turkey, HU</text><use href="#t" x="2326" y="2044.1"/></g>
<g id="mB-r10"><text x="1908.5" y="2105.5">KJ874286 TARV-MN4, turkey, US</text><use href="#t" x="2358" y="2081.5"/></g>
<g id="mB-r11"><text x="1862" y="2143">KX398296 4599-V-04, chicken, HU</text><use href="#c" x="2328" y="2119"/></g>
<g id="mB-r12"><text x="1865" y="2180.4">KX398326 17227-M-10, chicken, HU</text><use href="#c" x="2355.4" y="2156.4"/></g>
<g id="mB-r13"><text x="1853" y="2217.9">KJ874301 TERV-MN6, turkey, US</text><use href="#t" x="2304.7" y="2193.9"/></g>
<g id="mB-r14"><text x="1851.7" y="2255.3">KJ874282 TARV-O Neil, turkey, US</text><use href="#t" x="2316" y="2231.3"/></g>
<g id="mB-r15"><text x="1853" y="2292.8">KJ874294 TARV-MN12, turkey, US</text><use href="#t" x="2314" y="2268.8"/></g>
<g id="mB-r16"><text x="1854" y="2330.2">KP173687 22342/13, turkey, US</text><use href="#t" x="2280" y="2306.2"/></g>
<g id="mB-r17"><text x="1813.8" y="2367.7">KJ874291 TARV-MN9, turkey, US</text><use href="#t" x="2265.5" y="2343.7"/></g>
<g id="mB-r18"><text x="1813.8" y="2405.1">KJ874292 TARV-MN10, turkey, US</text><use href="#t" x="2277.6" y="2381.1"/></g>
<g id="mB-r19"><text x="1813.8" y="2442.6">KJ874284 TARV-MN2, turkey, US</text><use href="#t" x="2264" y="2418.6"/></g>
<g id="mB-r20"><text x="1815.8" y="2480">KJ874293 TARV-MN11, turkey, US</text><use href="#t" x="2279" y="2456"/></g>
<g id="mB-r21"><text x="1813.8" y="2517.5">KJ874295 TARV-MN13, turkey, US</text><use href="#t" x="2277.6" y="2493.5"/></g>
<g id="mB-r22"><text x="1813.8" y="2554.9">KJ874296 TERV-MN1, turkey, US</text><use href="#t" x="2265.5" y="2530.9"/></g>
<g id="mB-r23"><text x="1815.8" y="2592.4">KR476802 D1007, partridge, HU</text><use href="#s" x="2253" y="2568.4"/></g>
<g id="mB-r24"><text x="1876.7" y="2629.8">KX398276 3211-V-02, chicken, HU</text><use href="#c" x="2340" y="2605.8"/></g>
<g id="mB-r25"><text x="1885.5" y="2667.3">KX398316 17203-M-06, chicken, HU</text><use href="#c" x="2373.6" y="2643.3"/></g>
<g id="mB-r26"><text x="1888" y="2704.7">KX398236 284-V-06, chicken, HU</text><use href="#c" x="2338.5" y="2680.7"/></g>
<g id="mB-r27"><text class="b" x="1886.8" y="2742.2">OQ731574 HUN209, turkey, HU</text><use href="#t" x="2321" y="2718.2"/></g>
<g id="mB-r28"><text x="1886.8" y="2779.6">KC865790 T1781, chicken, HU</text><use href="#c" x="2302.6" y="2755.6"/></g>
<g id="mB-r29"><text x="1851.7" y="2817.1">OK077997 AHZJ19, chicken, CN</text><use href="#c" x="2291" y="2793.1"/></g>
<g id="mB-r30"><text x="1907" y="2854.5">MT423661 216/2015, pheasant, HU</text><use href="#s" x="2387" y="2830.5"/></g>
<g id="mB-r31"><text x="1908.5" y="2892">KX398286 3457-M-11, chicken, HU</text><use href="#c" x="2379" y="2868"/></g>
<g id="mB-r32"><text x="1907" y="2929.4">KX398306 16821-M-06, chicken, HU</text><use href="#c" x="2397" y="2905.4"/></g>
<g id="mB-r33"><text x="1908.5" y="2966.9">KX398266 924-Bi-05, chicken, HU</text><use href="#c" x="2365.5" y="2942.9"/></g>
<g id="mB-support">
<text class="n" x="1729" y="2070">84</text><text class="n" x="1822.6" y="1966">100</text><text class="n" x="1866.5" y="1853.5">100</text><text class="n" x="1866.5" y="2044">99</text><text class="n" x="1839.5" y="2135">100</text><text class="n" x="1805.7" y="2218">100</text><text class="n" x="1838" y="2263">100</text><text class="n" x="1838" y="2296">99</text><text class="n" x="1841" y="2324">70</text><text class="n" x="1807" y="2378">100</text><text class="n" x="1802" y="2413.7">100</text><text class="n" x="1792" y="2451.6">72</text><text class="n" x="1792" y="2491.8">100</text><text class="n" x="1709.7" y="2587.8">91</text><text class="n" x="1750" y="2643.6">98</text><text class="n" x="1829" y="2677">100</text><text class="n" x="1862" y="2712.8">100</text><text class="n" x="1859.8" y="2744">97</text><text class="n" x="1873" y="2773">100</text><text class="n" x="1811" y="2866.8">100</text><text class="n" x="1887" y="2904.7">100</text><text class="n" x="1892" y="2942.7">100</text>
</g>
</g>

<g id="tree-mNS">
<text class="tl" x="2635.6" y="2312">μNS</text>
<text class="sc" x="2663" y="3034">0.1</text>
<g id="mNS-r0"><text class="b" x="2940.5" y="1723.5">OQ731555 HUN197, turkey, HU</text><use href="#t" x="3378.5" y="1699.5"/></g>
<g id="mNS-r1"><text class="b" x="2940.5" y="1760">OQ731565 HUN199, turkey, HU</text><use href="#t" x="3375.7" y="1736"/></g>
<g id="mNS-r2"><text class="b" x="2940.5" y="1796.4">OQ731545 HUN195, turkey, HU</text><use href="#t" x="3375.7" y="1772.4"/></g>
<g id="mNS-r3"><text class="b" x="2940.5" y="1832.9">OQ731535 HUN194, turkey, HU</text><use href="#t" x="3375.7" y="1808.9"/></g>
<g id="mNS-r4"><text class="b" x="2940.5" y="1869.3">OQ731525 HUN190, turkey, HU</text><use href="#t" x="3375.7" y="1845.3"/></g>
<g id="mNS-r5"><text class="b" x="2940.5" y="1905.8">OQ731515 HUN189, turkey, HU</text><use href="#t" x="3375.7" y="1881.8"/></g>
<g id="mNS-r6"><text class="b" x="2940.5" y="1942.2">OQ731505 HUN188, turkey, HU</text><use href="#t" x="3375.7" y="1918.2"/></g>
<g id="mNS-r7"><text x="2939" y="1978.7">KR997924 D1104, turkey, HU</text><use href="#t" x="3331.6" y="1954.7"/></g>
<g id="mNS-r8"><text x="2939" y="2015.1">KR997904 19831M09, turkey, HU</text><use href="#t" x="3385.5" y="1991.1"/></g>
<g id="mNS-r9"><text x="2939" y="2051.6">KR997914 D1246, turkey, HU</text><use href="#t" x="3336.5" y="2027.6"/></g>
<g id="mNS-r10"><text x="2942.6" y="2088">KJ874275 TERV-MN3, turkey, US</text><use href="#t" x="3394.6" y="2064"/></g>
<g id="mNS-r11"><text x="2954.5" y="2124.5">KP173688 22342/13, turkey, US</text><use href="#t" x="3384" y="2100.5"/></g>
<g id="mNS-r12"><text x="2937" y="2160.9">KJ874263 TARV-MN4, turkey, US</text><use href="#t" x="3382.7" y="2136.9"/></g>
<g id="mNS-r13"><text x="2934" y="2197.4">KJ874278 TERV-MN6, turkey, US</text><use href="#t" x="3384" y="2173.4"/></g>
<g id="mNS-r14"><text x="2934" y="2233.8">KJ874272 TARV-MN13, turkey, US</text><use href="#t" x="3398" y="2209.8"/></g>
<g id="mNS-r15"><text x="2932" y="2270.3">KJ874273 TERV-MN1, turkey, US</text><use href="#t" x="3385.5" y="2246.3"/></g>
<g id="mNS-r16"><text x="2932" y="2306.7">KJ874259 TARV-O Neil, turkey, US</text><use href="#t" x="3399.5" y="2282.7"/></g>
<g id="mNS-r17"><text x="2932" y="2343.2">KJ874261 TARV-MN2, turkey, US</text><use href="#t" x="3389.7" y="2319.2"/></g>
<g id="mNS-r18"><text x="2935.6" y="2379.6">KJ874270 TARV-MN11, turkey, US</text><use href="#t" x="3396.7" y="2355.6"/></g>
<g id="mNS-r19"><text x="2935.6" y="2416.1">KJ874271 TARV-MN12, turkey, US</text><use href="#t" x="3396.7" y="2392.1"/></g>
<g id="mNS-r20"><text x="2937" y="2452.5">KJ874268 TARV-MN9, turkey, US</text><use href="#t" x="3385.5" y="2428.5"/></g>
<g id="mNS-r21"><text x="2935.6" y="2489">KJ874269 TARV-MN10, turkey, US</text><use href="#t" x="3396.7" y="2465"/></g>
<g id="mNS-r22"><text x="2998.6" y="2525.4">KR476803 D1007, partridge, HU</text><use href="#s" x="3440" y="2501.4"/></g>
<g id="mNS-r23"><text x="3025" y="2561.9">KX398267 924-Bi-05, chicken, HU</text><use href="#c" x="3482" y="2537.9"/></g>
<g id="mNS-r24"><text x="3040.7" y="2598.3">OK077998 AHZJ19, chicken, CN</text><use href="#c" x="3481" y="2574.3"/></g>
<g id="mNS-r25"><text x="3040.7" y="2634.8">KX398297 4599-V-04, chicken, HU</text><use href="#c" x="3506.8" y="2610.8"/></g>
<g id="mNS-r26"><text x="3037" y="2671.2">KX398287 3457-M-11, chicken, HU</text><use href="#c" x="3506.8" y="2647.2"/></g>
<g id="mNS-r27"><text x="3037" y="2707.7">KX398327 17227-M-10, chicken, HU</text><use href="#c" x="3524.3" y="2683.7"/></g>
<g id="mNS-r28"><text x="3033.7" y="2744.1">KX398317 17203-M-06, chicken, HU</text><use href="#c" x="3523" y="2720.1"/></g>
<g id="mNS-r29"><text x="3033.7" y="2780.6">KX398277 3211-V-02, chicken, HU</text><use href="#c" x="3499.8" y="2756.6"/></g>
<g id="mNS-r30"><text x="3033.7" y="2817">KX398237 284-V-06, chicken, HU</text><use href="#c" x="3482" y="2793"/></g>
<g id="mNS-r31"><text x="3037" y="2853.5">KX398307 16821-M-06, chicken, HU</text><use href="#c" x="3524.3" y="2829.5"/></g>
<g id="mNS-r32"><text class="b" x="3044" y="2889.9">OQ731505 HUN209, turkey, HU</text><use href="#t" x="3483.6" y="2865.9"/></g>
<g id="mNS-r33"><text x="3046" y="2926.4">KC865791 T1781, chicken, HU</text><use href="#c" x="3461" y="2902.4"/></g>
<g id="mNS-r34"><text x="3046" y="2962.8">MT423662 216/2015, pheasant, HU</text><use href="#s" x="3527.8" y="2938.8"/></g>
<g id="mNS-support">
<text class="n" x="2923" y="1803.6">99</text><text class="n" x="2923.6" y="1892.5">100</text><text class="n" x="2914.5" y="1975">99</text><text class="n" x="2934" y="2007.4">98</text><text class="n" x="2907.5" y="2035.6">89</text><text class="n" x="2928.5" y="2040">95</text><text class="n" x="2907.5" y="2120">100</text><text class="n" x="2909" y="2246">99</text><text class="n" x="2920" y="2302.3">100</text><text class="n" x="2918" y="2360">71</text><text class="n" x="2918" y="2402.5">99</text><text class="n" x="2925" y="2447">100</text><text class="n" x="2921.5" y="2576.6">100</text><text class="n" x="2948" y="2614.6">99</text><text class="n" x="2970.6" y="2654.7">94</text><text class="n" x="3019.7" y="2663.7">100</text><text class="n" x="3004" y="2759.6">100</text><text class="n" x="3012.7" y="2815.5">100</text><text class="n" x="3033.7" y="2918">100</text>
</g>
</g>
</svg>
